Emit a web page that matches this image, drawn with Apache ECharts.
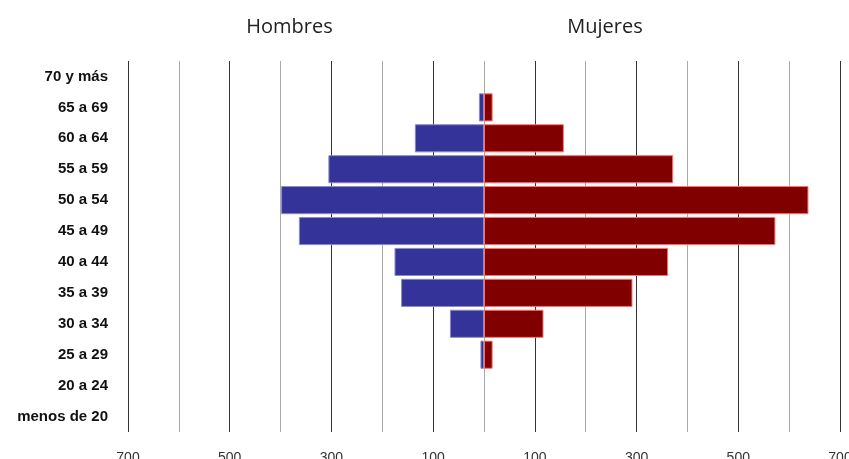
<!DOCTYPE html>
<html>
<head>
<meta charset="utf-8">
<script src="https://cdn.jsdelivr.net/npm/echarts@6/dist/echarts.min.js"></script>
<style>html,body{margin:0;padding:0;background:#fff;overflow:hidden}#c{width:849px;height:459px}</style>
</head>
<body>
<div id="c"></div>
<script>
var categories = ['menos de 20','20 a 24','25 a 29','30 a 34','35 a 39','40 a 44','45 a 49','50 a 54','55 a 59','60 a 64','65 a 69','70 y más'];
var hombres = [0, 0, 7, 67, 163, 176, 364, 399, 306, 136, 10, 0];
var mujeres = [0, 0, 17, 117, 292, 362, 573, 638, 372, 157, 17, 0];
var seriesNames = ['Hombres', 'Mujeres'];

var chart = echarts.init(document.getElementById('c'));
chart.setOption({
  backgroundColor: '#fff',
  animation: false,
  graphic: [
    {type:'text', x:289.5, y:27, style:{text:seriesNames[0], textAlign:'center', textVerticalAlign:'middle', fontFamily:'Open Sans', fontSize:20, fill:'#222'}},
    {type:'text', x:605, y:27, style:{text:seriesNames[1], textAlign:'center', textVerticalAlign:'middle', fontFamily:'Open Sans', fontSize:20, fill:'#222'}}
  ],
  grid: {left:128, right:9, top:61, bottom:27, containLabel:false, outerBoundsMode:'none'},
  xAxis: {
    type:'value', min:-700, max:700, interval:200,
    axisLine:{show:false}, axisTick:{show:false},
    axisLabel:{formatter:function(v){return Math.abs(v);}, color:'#333', fontSize:14, fontFamily:'Liberation Sans', margin:19, hideOverlap:false},
    splitLine:{show:true, lineStyle:{color:'#333', width:1}},
    minorTick:{show:false, splitNumber:2},
    minorSplitLine:{show:true, lineStyle:{color:'#aaa', width:1}}
  },
  yAxis: {
    type:'category', data:categories,
    axisLine:{show:false}, axisTick:{show:false},
    axisLabel:{color:'#111', fontSize:15, fontWeight:'bold', fontFamily:'Liberation Sans', margin:20}
  },
  series: [
    {name:seriesNames[0], type:'bar', stack:'t', barCategoryGap:'9%',
     data:hombres.map(function(v){return v === 0 ? null : -v;}),
     itemStyle:{color:'#333399', borderColor:'#8c8cc0', borderWidth:1}},
    {name:seriesNames[1], type:'bar', stack:'t', barCategoryGap:'9%',
     data:mujeres.map(function(v){return v === 0 ? null : v;}),
     itemStyle:{color:'#800000', borderColor:'#ff7070', borderWidth:1}}
  ]
});
</script>
</body>
</html>
